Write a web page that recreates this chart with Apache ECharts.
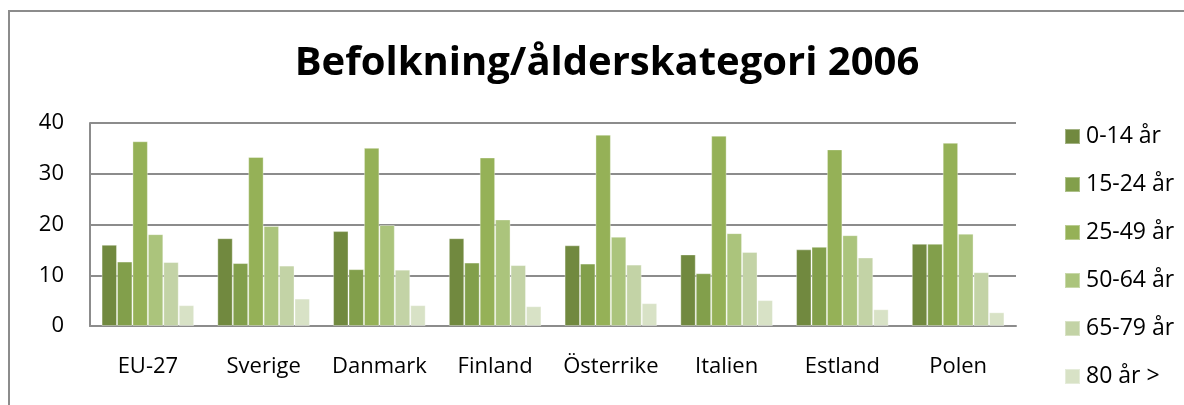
<!DOCTYPE html>
<html>
<head>
<meta charset="utf-8">
<script src="https://cdn.jsdelivr.net/npm/echarts@6/dist/echarts.min.js"></script>
<style>
  html, body { margin: 0; padding: 0; background: #fff; }
  #main { width: 1184px; height: 405px; }
</style>
</head>
<body>
<div id="main"></div>
<script>
// kategorier (länder)
var countries = ['EU-27', 'Sverige', 'Danmark', 'Finland', 'Österrike', 'Italien', 'Estland', 'Polen'];
// åldersgrupper
var ageGroups = ['0-14 år', '15-24 år', '25-49 år', '50-64 år', '65-79 år', '80 år >'];
// värden per åldersgrupp, ett värde per land
var age0_14  = [16.0, 17.3, 18.7, 17.3, 15.9, 14.1, 15.1, 16.2];
var age15_24 = [12.7, 12.4, 11.2, 12.5, 12.3, 10.4, 15.6, 16.2];
var age25_49 = [36.4, 33.3, 35.1, 33.2, 37.7, 37.5, 34.8, 36.1];
var age50_64 = [18.1, 19.7, 19.9, 21.0, 17.6, 18.3, 17.9, 18.2];
var age65_79 = [12.6, 11.9, 11.1, 12.0, 12.1, 14.6, 13.5, 10.6];
var age80    = [4.1, 5.4, 4.1, 3.9, 4.5, 5.1, 3.3, 2.7];
var yTicks = [0, 10, 20, 30, 40];

var colors = ['#71893f', '#829f4b', '#95b157', '#abc47c', '#c3d3a6', '#d8e2c6'];
var allData = [age0_14, age15_24, age25_49, age50_64, age65_79, age80];

var chart = echarts.init(document.getElementById('main'), null, { renderer: 'canvas' });

var series = [];
for (var i = 0; i < ageGroups.length; i++) {
  series.push({
    name: ageGroups[i],
    type: 'bar',
    barGap: '0%',
    barCategoryGap: '20%',
    data: allData[i],
    itemStyle: { color: colors[i], borderColor: 'rgba(255,255,255,0.35)', borderWidth: 1 },
    animation: false
  });
}

var option = {
  color: colors,
  textStyle: { fontFamily: 'Open Sans' },
  title: {
    text: 'Befolkning/ålderskategori 2006',
    left: 602,
    textAlign: 'center',
    top: 39,
    textStyle: { fontSize: 40, fontWeight: 'bold', color: '#000', fontFamily: 'Open Sans' }
  },
  legend: {
    orient: 'vertical',
    left: 1059,
    top: 120,
    itemWidth: 15,
    itemHeight: 15,
    itemGap: 25,
    icon: 'rect',
    data: ageGroups,
    textStyle: { fontSize: 23, color: '#000', fontFamily: 'Open Sans', padding: [0, 0, 0, 1] }
  },
  grid: { left: 90, right: 168, top: 123, bottom: 79 },
  xAxis: {
    type: 'category',
    data: countries,
    axisLine: { show: true, lineStyle: { color: '#8c8c8c', width: 2 } },
    axisTick: { show: false },
    axisLabel: { interval: 0, hideOverlap: false, fontSize: 22, color: '#000', margin: 30, fontFamily: 'Open Sans' }
  },
  yAxis: {
    type: 'value',
    min: yTicks[0],
    max: yTicks[yTicks.length - 1],
    interval: 10,
    axisLine: { show: true, lineStyle: { color: '#8c8c8c', width: 2 } },
    axisTick: { show: false },
    splitLine: { lineStyle: { color: '#8c8c8c', width: 2 } },
    axisLabel: { fontSize: 22, color: '#000', margin: 26, fontFamily: 'Open Sans' }
  },
  graphic: [{
    type: 'rect',
    shape: { x: 9, y: 11, width: 1300, height: 500 },
    style: { fill: 'none', stroke: '#8c8c8c', lineWidth: 2 },
    silent: true
  }],
  series: series
};

chart.setOption(option);
</script>
</body>
</html>
